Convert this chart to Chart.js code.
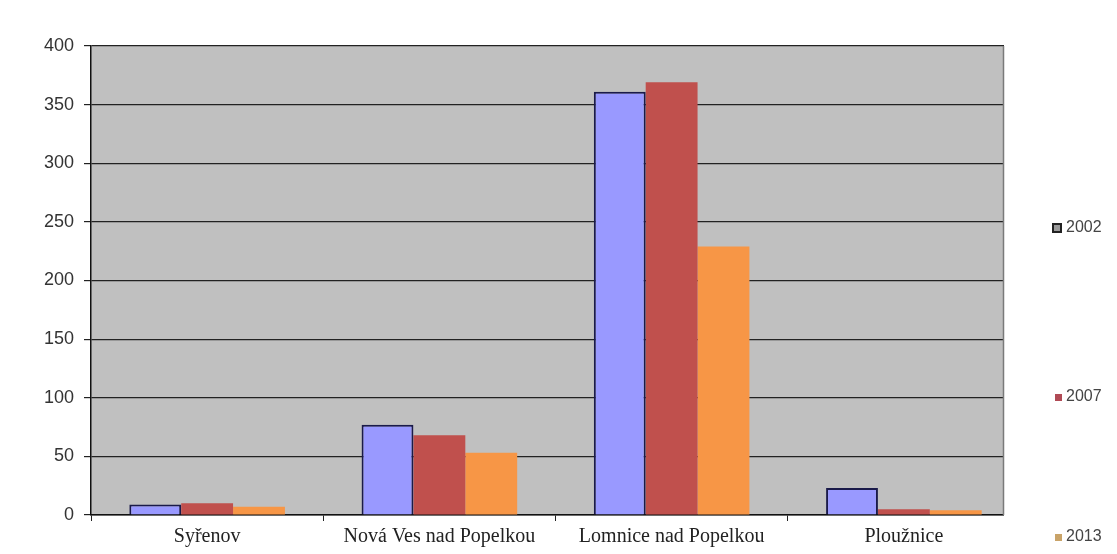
<!DOCTYPE html>
<html>
<head>
<meta charset="utf-8">
<script src="https://cdn.jsdelivr.net/npm/chart.js@4/dist/chart.umd.min.js"></script>
<style>
  html, body { margin: 0; padding: 0; background: #fff; }
  #wrap { width: 1117px; height: 554px; }
</style>
</head>
<body>
<div id="wrap"><canvas id="graf"></canvas></div>
<script>
// Data
const obce = ['Syřenov', 'Nová Ves nad Popelkou', 'Lomnice nad Popelkou', 'Ploužnice'];
const roky = ['2002', '2007', '2013'];
const hodnoty2002 = [9, 77, 361, 23];
const hodnoty2007 = [10, 68, 369, 5];
const hodnoty2013 = [7, 53, 229, 4];
const osaY = [0, 50, 100, 150, 200, 250, 300, 350, 400];

const barvy = ['#9999ff', '#c0504d', '#f79646'];
const KONEC_PLOCHY = 1003; // kde končí šedá plocha

// pozadí plochy grafu
const pozadi = {
    id: 'pozadi',
    beforeDraw(chart) {
        const { ctx, chartArea: a } = chart;
        ctx.save();
        ctx.fillStyle = '#c0c0c0';
        ctx.fillRect(a.left, a.top, KONEC_PLOCHY - a.left, a.bottom - a.top);
        ctx.restore();
    },
    afterDraw(chart) {
        const { ctx, chartArea: a } = chart;
        ctx.save();
        // zakrýt přesah os za šedou plochou
        ctx.fillStyle = '#fff';
        ctx.fillRect(KONEC_PLOCHY + 1, a.top - 5, 20, a.bottom - a.top + 20);
        ctx.strokeStyle = '#7a7a7a';
        ctx.lineWidth = 1.5;
        ctx.beginPath();
        ctx.moveTo(KONEC_PLOCHY + 0.5, a.top);
        ctx.lineTo(KONEC_PLOCHY + 0.5, a.bottom);
        ctx.stroke();
        ctx.restore();
    }
};

// legenda vpravo
const legenda = {
    id: 'legenda',
    afterDraw(chart) {
        const { ctx } = chart;
        const pozice = [228, 397, 537];
        const znacky = ['#9a9a9a', '#b04a55', '#c9a368'];
        ctx.save();
        ctx.font = '16px "Liberation Sans"';
        ctx.textBaseline = 'middle';
        chart.data.datasets.forEach((ds, i) => {
            const y = pozice[i];
            if (i === 0) {
                ctx.fillStyle = '#222';
                ctx.fillRect(1052, y - 5, 10, 10);
                ctx.fillStyle = znacky[0];
                ctx.fillRect(1054, y - 3, 6, 6);
            } else {
                ctx.fillStyle = znacky[i];
                ctx.fillRect(1055, y - 3, 7, 7);
            }
            ctx.fillStyle = '#444';
            ctx.fillText(ds.label, 1066, y);
        });
        ctx.restore();
    }
};

const dataGraf = {
    labels: obce,
    datasets: [
        { label: roky[0], data: hodnoty2002, backgroundColor: barvy[0], borderColor: '#1a1a4a', borderWidth: 2 },
        { label: roky[1], data: hodnoty2007, backgroundColor: barvy[1], borderWidth: 0 },
        { label: roky[2], data: hodnoty2013, backgroundColor: barvy[2], borderWidth: 0 }
    ]
};

const configGraf = {
    type: 'bar',
    data: dataGraf,
    options: {
        responsive: true,
        maintainAspectRatio: false,
        animation: false,
        layout: { padding: { top: 46, right: 97, left: 0, bottom: 0 } },
        datasets: { bar: { categoryPercentage: 0.67, barPercentage: 1 } },
        plugins: {
            legend: { display: false },
            tooltip: { enabled: false }
        },
        scales: {
            x: {
                grid: { offset: true, drawOnChartArea: false, drawTicks: true, tickLength: 6, color: '#222' },
                border: { color: '#111', width: 1.5 },
                ticks: { color: '#222', font: { family: 'Liberation Serif', size: 20 }, padding: 4 },
                afterFit(s) { s.height = 39; }
            },
            y: {
                min: 0,
                max: 400,
                afterBuildTicks(s) { s.ticks = osaY.map(v => ({ value: v })); },
                grid: { color: '#222', lineWidth: 1.2, tickLength: 7 },
                border: { color: '#111', width: 1.5 },
                ticks: { color: '#333', font: { family: 'Liberation Sans', size: 18 }, padding: 10 },
                afterFit(s) { s.width = 91; }
            }
        }
    },
    plugins: [pozadi, legenda]
};

const graf = new Chart(document.getElementById('graf'), configGraf);
</script>
</body>
</html>
